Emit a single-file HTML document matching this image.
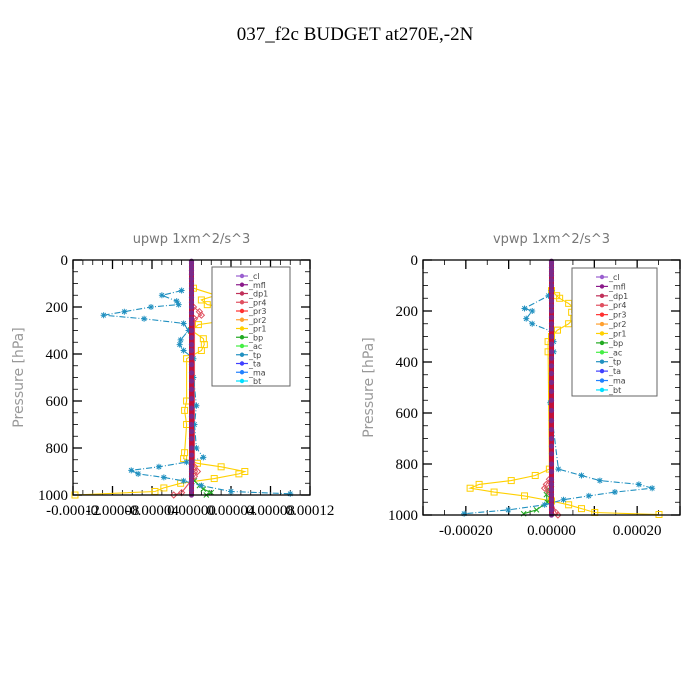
<!DOCTYPE html>
<html><head><meta charset="utf-8"><style>
body{margin:0;background:#fff;width:700px;height:700px;overflow:hidden}
svg{display:block}
</style></head><body>
<svg id="c" width="700" height="700" xmlns="http://www.w3.org/2000/svg">
<text x="355" y="40" text-anchor="middle" font-family="Liberation Serif, serif" font-size="19">037_f2c  BUDGET at270E,-2N</text>
</svg>
<script>
// ---- data: left panel (upwp) ----
const upLevelsTp = [130,150,175,190,200,220,235,250,270,300,340,360,385,420,500,620,700,800,840,860,880,895,910,925,940,960,985,995];
const upTp = [-1.0e-5,-3.0e-5,-1.5e-5,-1.3e-5,-4.1e-5,-6.8e-5,-8.9e-5,-4.8e-5,-0.8e-5,-0.3e-5,-1.1e-5,-1.2e-5,-0.8e-5,0.2e-5,0.2e-5,0.5e-5,0.3e-5,0.5e-5,1.2e-5,-0.5e-5,-3.3e-5,-6.1e-5,-5.4e-5,-2.8e-5,-0.8e-5,1.0e-5,4.0e-5,10.0e-5];
const upLevelsPr1 = [120,150,170,190,205,235,255,275,300,335,360,385,420,600,640,700,820,845,865,880,900,910,930,950,970,985,1000];
const upPr1 = [0.2e-5,2.5e-5,1.0e-5,1.6e-5,3.8e-5,6.4e-5,4.0e-5,0.7e-5,0,1.2e-5,1.3e-5,1.0e-5,-0.5e-5,-0.5e-5,-0.7e-5,-0.5e-5,-0.7e-5,-0.8e-5,0.6e-5,3.0e-5,5.4e-5,4.8e-5,2.3e-5,-1.1e-5,-2.8e-5,-3.7e-5,-11.8e-5];
const upLevelsBp = [900,940,960,975,990,1000];
const upBp = [0.1e-5,0.3e-5,0.8e-5,1.2e-5,2.0e-5,1.5e-5];
const upLevelsPr4 = [200,220,235,250,880,900,920,990,1000];
const upPr4 = [0.2e-5,0.8e-5,1.0e-5,0.3e-5,0.3e-5,0.6e-5,0.3e-5,-1.0e-5,-1.8e-5];
// ---- data: right panel (vpwp) ----
const vpLevelsTp = [120,140,190,200,230,250,280,320,360,560,820,845,865,880,895,910,925,940,960,980,995];
const vpTp = [0,-0.7e-5,-6.3e-5,-4.5e-5,-5.9e-5,-4.5e-5,0,0.5e-5,0.5e-5,-0.3e-5,1.6e-5,7.0e-5,11.3e-5,20.4e-5,23.5e-5,14.8e-5,8.7e-5,2.8e-5,-1.6e-5,-10.1e-5,-20.4e-5];
const vpLevelsPr1 = [120,140,150,170,190,205,230,250,275,300,320,360,820,845,865,880,895,910,925,945,960,975,990,998];
const vpPr1 = [0,1.2e-5,1.9e-5,4.0e-5,5.4e-5,4.7e-5,5.2e-5,4.0e-5,1.4e-5,0,-0.8e-5,-0.8e-5,-0.5e-5,-3.8e-5,-9.4e-5,-16.9e-5,-19.0e-5,-13.4e-5,-6.3e-5,0,4.0e-5,7.0e-5,10.1e-5,25.1e-5];
const vpLevelsBp = [880,900,920,950,980,995];
const vpBp = [0,-0.8e-5,-1.2e-5,-1.0e-5,-3.5e-5,-6.5e-5];
const vpLevelsPr4 = [860,880,895,910,990,1000];
const vpPr4 = [-0.5e-5,-1.2e-5,-1.6e-5,-0.6e-5,1.0e-5,1.5e-5];
const zeroLevels = [5,15,30,45,60,80,100,120,140,160,180,200,225,250,270,300,330,360,385,415,445,480,515,550,590,630,665,700,730,760,800,830,860,880,900,920,940,960,980,1000];
const legendNames = ["_cl","_mfl","_dp1","_pr4","_pr3","_pr2","_pr1","_bp","_ac","_tp","_ta","_ma","_bt"];
const legendColors = ["#9a5fcf","#8b1a8b","#c0305a","#e05060","#ff3030","#ffa030","#ffd000","#22aa22","#44ee44","#2090c0","#4040ff","#2080ff","#00e0ff"];
const upTicks = ["-0.00012","-0.00008","-0.00004","0.00000","0.00004","0.00008","0.00012"];
const upTickVals = [-0.00012,-0.00008,-0.00004,0,0.00004,0.00008,0.00012];
const vpTicks = ["-0.00020","0.00000","0.00020"];
const vpTickVals = [-0.0002,0,0.0002];
const yTicks = ["0","200","400","600","800","1000"];
const yTickVals = [0,200,400,600,800,1000];

const NS="http://www.w3.org/2000/svg";
const svg=document.getElementById('c');
function mk(tag,attrs,parent){const e=document.createElementNS(NS,tag);for(const k in attrs)e.setAttribute(k,attrs[k]);(parent||svg).appendChild(e);return e;}

function panel(o){
  const g=mk('g',{});
  
  
  const X=v=>o.x0+(v-o.xmin)/(o.xmax-o.xmin)*(o.x1-o.x0);
  const Y=p=>o.y0+p/1000*(o.y1-o.y0);
  const t=mk('text',{x:(o.x0+o.x1)/2,y:o.y0-17,'text-anchor':'middle','font-family':'DejaVu Sans, sans-serif','font-size':'13',fill:'#777'},g);
  t.textContent=o.title;
  
  
  // y ticks
  for(let p=0;p<=1000;p+=50){
    const major=p%200===0;const L=major?9:5;
    mk('line',{x1:o.x0,y1:Y(p),x2:o.x0+L,y2:Y(p),stroke:'#000','stroke-width':major?1.3:0.8},g);
    mk('line',{x1:o.x1,y1:Y(p),x2:o.x1-L,y2:Y(p),stroke:'#000','stroke-width':major?1.3:0.8},g);
  }
  yTickVals.forEach((v,i)=>{
    const tt=mk('text',{x:o.x0-5,y:Y(v)+5,'text-anchor':'end','font-family':'Liberation Serif, serif','font-size':'15'},g);
    tt.textContent=yTicks[i];
    
    
  });
  // x ticks
  for(let v=o.xmin;v<=o.xmax+1e-12;v+=o.xminor){
    const major=Math.abs(Math.round(v/o.xmajor)*o.xmajor-v)<1e-12;const L=major?9:5;
    mk('line',{x1:X(v),y1:o.y1,x2:X(v),y2:o.y1-L,stroke:'#000','stroke-width':major?1.3:0.8},g);
    mk('line',{x1:X(v),y1:o.y0,x2:X(v),y2:o.y0+L,stroke:'#000','stroke-width':major?1.3:0.8},g);
  }
  o.tickVals.forEach((v,i)=>{
    const tt=mk('text',{x:X(v),y:o.y1+20,'text-anchor':'middle','font-family':'Liberation Serif, serif','font-size':'15'},g);
    tt.textContent=o.ticks[i];
    
    
  });
  const yl=mk('text',{transform:`translate(${o.x0-50},${(o.y0+o.y1)/2}) rotate(-90)`,'text-anchor':'middle','font-family':'DejaVu Sans, sans-serif','font-size':'14',fill:'#999'},g);
  yl.textContent='Pressure [hPa]';
  
  
  function series(lv,vals,color,name,marker,dash){
    const s=mk('g',{},g);
    
    
    const pts=lv.map((p,i)=>X(vals[i]).toFixed(1)+','+Y(p).toFixed(1)).join(' ');
    mk('polyline',{points:pts,fill:'none',stroke:color,'stroke-width':1.1,'stroke-dasharray':dash||''},s);
    lv.forEach((p,i)=>{
      const cx=X(vals[i]),cy=Y(p);
      if(marker==='sq')mk('rect',{x:cx-3,y:cy-3,width:6,height:6,fill:'none',stroke:color,'stroke-width':1},s);
      else if(marker==='star'){mk('path',{d:`M${cx-3},${cy}h6M${cx},${cy-3}v6M${cx-2.2},${cy-2.2}l4.4,4.4M${cx-2.2},${cy+2.2}l4.4,-4.4`,stroke:color,'stroke-width':1},s);}
      else if(marker==='x')mk('path',{d:`M${cx-2.5},${cy-2.5}l5,5M${cx-2.5},${cy+2.5}l5,-5`,stroke:color,'stroke-width':1},s);
      else mk('path',{d:`M${cx-3},${cy}l3,-3l3,3l-3,3z`,fill:'none',stroke:color,'stroke-width':1},s);
    });
  }
  series(o.pr1L,o.pr1,'#ffd000','series-pr1','sq');
  series(o.bpL,o.bp,'#22aa22','series-bp','x');
  series(o.pr4L,o.pr4,'#e05060','series-pr4','dia');
  series(o.tpL,o.tp,'#2090c0','series-tp','star','6,2,1,2');
  // central zero-line series (cl/mfl/dp1)
  const z=mk('g',{},g);
  
  
  mk('line',{x1:X(0),y1:Y(0),x2:X(0),y2:Y(1000),stroke:'#c0103a','stroke-width':5},z);
  zeroLevels.forEach(p=>{mk('circle',{cx:X(0),cy:Y(p),r:2.6,fill:'#7a2a8a'},z);});
  // frame
  mk('rect',{x:o.x0,y:o.y0,width:o.x1-o.x0,height:o.y1-o.y0,fill:'none',stroke:'#000','stroke-width':1.3},g);
  // legend
  const lg=mk('g',{},g);
  
  
  mk('rect',{x:o.lx,y:o.ly,width:o.lw,height:o.lh,fill:'#fff',stroke:'#666','stroke-width':1},lg);
  legendNames.forEach((n,i)=>{
    const yy=o.ly+9+i*o.lh/13.6;
    const e=mk('g',{},lg);
    
    
    mk('line',{x1:o.lx+24,y1:yy,x2:o.lx+36,y2:yy,stroke:legendColors[i],'stroke-width':1.2},e);
    mk('circle',{cx:o.lx+30,cy:yy,r:2.2,fill:legendColors[i]},e);
    const tx=mk('text',{x:o.lx+37,y:yy+3,'font-family':'DejaVu Sans, sans-serif','font-size':'8',fill:'#444'},e);
    tx.textContent=n;
  });
}
panel({name:'upwp-panel',title:'upwp   1xm^2/s^3',x0:73,x1:310,y0:260,y1:495,xmin:-0.00012,xmax:0.00012,xmajor:0.00004,xminor:0.00001,
  ticks:upTicks,tickVals:upTickVals,tpL:upLevelsTp,tp:upTp,pr1L:upLevelsPr1,pr1:upPr1,bpL:upLevelsBp,bp:upBp,pr4L:upLevelsPr4,pr4:upPr4,
  lx:212,ly:267,lw:78,lh:119});
panel({name:'vpwp-panel',title:'vpwp   1xm^2/s^3',x0:423,x1:680,y0:260,y1:515,xmin:-0.0003,xmax:0.0003,xmajor:0.0001,xminor:0.00005,
  ticks:vpTicks,tickVals:vpTickVals,tpL:vpLevelsTp,tp:vpTp,pr1L:vpLevelsPr1,pr1:vpPr1,bpL:vpLevelsBp,bp:vpBp,pr4L:vpLevelsPr4,pr4:vpPr4,
  lx:572,ly:268,lw:85,lh:128});
</script>
</body></html>
